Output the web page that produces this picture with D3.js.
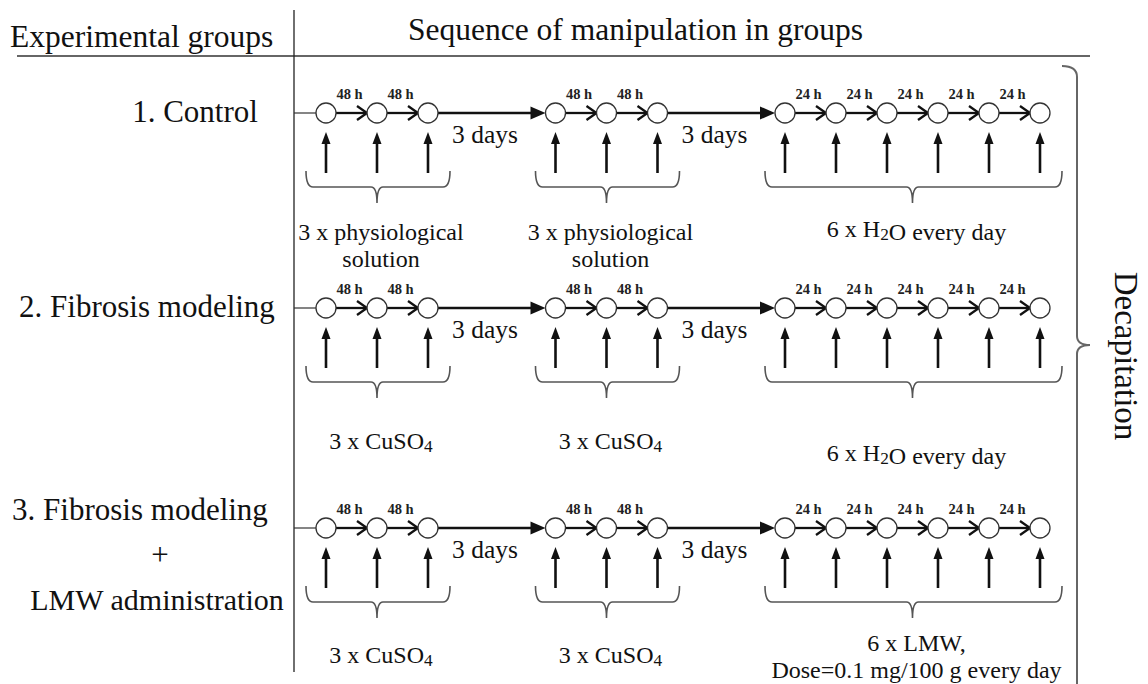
<!DOCTYPE html>
<html>
<head>
<meta charset="utf-8">
<script src="https://cdn.jsdelivr.net/npm/d3@7"></script>
<style>
  body { margin: 0; background: #fff; }
</style>
</head>
<body>
<div id="scheme"></div>
<script>
// --- data ---
var headers = ["Experimental groups", "Sequence of manipulation in groups"];
var groupLines = [
    ["1. Control"],
    ["2. Fibrosis modeling"],
    ["3. Fibrosis modeling", "+", "LMW administration"]
];
var blockCounts = [3, 3, 6];
var blockIntervals = [["48 h", "48 h"], ["48 h", "48 h"], ["24 h", "24 h", "24 h", "24 h", "24 h"]];
var gapLabels = ["3 days", "3 days"];
var treatments = [
    [["3 x physiological", "solution"], ["3 x physiological", "solution"], ["6 x H₂O every day"]],
    [["3 x CuSO₄"], ["3 x CuSO₄"], ["6 x H₂O every day"]],
    [["3 x CuSO₄"], ["3 x CuSO₄"], ["6 x LMW,", "Dose=0.1 mg/100 g every day"]]
];
var endpoint = "Decapitation";

// --- layout ---
var width = 1148, height = 684;
var serif = "'Liberation Serif', 'Times New Roman', serif";
var ink = "#111";

var svg = d3.select("#scheme")
  .append("svg")
    .attr("width", width)
    .attr("height", height)
    .style("display", "block");

var rowY = d3.scaleOrdinal().domain([0, 1, 2]).range([113, 308, 528]);

// slot index of every injection: 1 unit inside a block, 2.5 units for the 3-day pause
var gapUnits = 2.5;
var slots = [], s = 0;
blockCounts.forEach(function(n) {
    var blk = [];
    for (var i = 0; i < n; i++) { blk.push(s); s += 1; }
    s += gapUnits - 1;
    slots.push(blk);
});
var lastSlot = slots[slots.length - 1][blockCounts[blockCounts.length - 1] - 1];
var xScale = d3.scaleLinear().domain([0, lastSlot]).range([326, 1040]);

var r = 10;
var groupX = [[195], [147], [140, 160, 157]];
var groupDy = [[9], [9], [-8, 37, 82]];
var groupSize = [[31], [31], [31, 31, 30]];
var treatDy = [[127, 127, 124], [141, 141, 153], [135, 135, 123]];

// headers
svg.append("text")
    .attr("x", 10).attr("y", 47)
    .attr("font-family", serif).attr("font-size", 31.5)
    .attr("fill", ink)
    .text(headers[0]);
svg.append("text")
    .attr("x", 408).attr("y", 40)
    .attr("font-family", serif).attr("font-size", 31.5)
    .attr("fill", ink)
    .text(headers[1]);

svg.append("line")
    .attr("x1", 17).attr("x2", 1090).attr("y1", 56).attr("y2", 56)
    .attr("stroke", "#333").attr("stroke-width", 1.3);
svg.append("line")
    .attr("x1", 294).attr("x2", 294).attr("y1", 10).attr("y2", 672)
    .attr("stroke", "#222").attr("stroke-width", 1.3);

// text with subscript digits
function richText(sel, str) {
    str.split(/([₂₄])/).forEach(function(part) {
        if (!part) return;
        if (part === "₂" || part === "₄") {
            sel.append("tspan").attr("font-size", "0.72em").attr("dy", 3)
                .text(part === "₂" ? "2" : "4");
            sel.append("tspan").attr("dy", -3).text("");
        } else {
            sel.append("tspan").text(part);
        }
    });
}

function brace(g, x0, x1, xc, y) {
    var yT = y + 58, yH = y + 74, yTip = y + 90;
    var p = d3.path();
    p.moveTo(x0, yT);
    p.quadraticCurveTo(x0, yH, x0 + 7, yH);
    p.lineTo(xc - 6, yH);
    p.quadraticCurveTo(xc, yH, xc, yTip);
    p.moveTo(xc, yTip);
    p.quadraticCurveTo(xc, yH, xc + 6, yH);
    p.lineTo(x1 - 7, yH);
    p.quadraticCurveTo(x1, yH, x1, yT);
    g.append("path").attr("d", p.toString())
        .attr("fill", "none").attr("stroke", "#555").attr("stroke-width", 1.6);
}

groupLines.forEach(function(lines, gi) {
    var y = rowY(gi);
    var g = svg.append("g").attr("class", "group");

    lines.forEach(function(t, li) {
        g.append("text")
            .attr("x", groupX[gi][li]).attr("y", y + groupDy[gi][li])
            .attr("text-anchor", "middle")
            .attr("font-family", serif).attr("font-size", groupSize[gi][li])
            .attr("fill", ink)
            .text(t);
    });

    // stub from divider to first circle
    g.append("line")
        .attr("x1", 294).attr("x2", xScale(slots[0][0]) - r)
        .attr("y1", y).attr("y2", y)
        .attr("stroke", "#333").attr("stroke-width", 1.2);

    slots.forEach(function(blk, bi) {
        // interval arrows inside block
        for (var i = 0; i < blk.length - 1; i++) {
            var xa = xScale(blk[i]) + r, xb = xScale(blk[i + 1]) - r;
            g.append("line")
                .attr("x1", xa).attr("x2", xb).attr("y1", y).attr("y2", y)
                .attr("stroke", ink).attr("stroke-width", 2.3);
            g.append("path")
                .attr("d", "M" + (xb - 10) + "," + (y - 7) + "L" + xb + "," + y + "L" + (xb - 10) + "," + (y + 7))
                .attr("fill", "none").attr("stroke", ink).attr("stroke-width", 2.3);
            g.append("text")
                .attr("x", (xScale(blk[i]) + xScale(blk[i + 1])) / 2 - 2).attr("y", y - 14)
                .attr("text-anchor", "middle")
                .attr("font-family", serif).attr("font-size", 14.5).attr("font-weight", "bold")
                .attr("fill", "#222")
                .text(blockIntervals[bi][i]);
        }

        // pause arrow to next block
        if (bi < slots.length - 1) {
            var xs = xScale(blk[blk.length - 1]) + r;
            var xe = xScale(slots[bi + 1][0]) - r;
            g.append("line")
                .attr("x1", xs).attr("x2", xe - 12).attr("y1", y).attr("y2", y)
                .attr("stroke", ink).attr("stroke-width", 2.3);
            g.append("path")
                .attr("d", "M" + xe + "," + y + "L" + (xe - 15) + "," + (y - 6.5) + "L" + (xe - 15) + "," + (y + 6.5) + "Z")
                .attr("fill", ink);
            g.append("text")
                .attr("x", xs + 14).attr("y", y + 30)
                .attr("font-family", serif).attr("font-size", 25.5)
                .attr("fill", ink)
                .text(gapLabels[bi]);
        }

        // injection arrows and circles
        blk.forEach(function(sl) {
            var x = xScale(sl);
            g.append("line")
                .attr("x1", x).attr("x2", x).attr("y1", y + 60).attr("y2", y + 28)
                .attr("stroke", ink).attr("stroke-width", 2.6);
            g.append("path")
                .attr("d", "M" + x + "," + (y + 19) + "L" + (x - 4.5) + "," + (y + 31) + "L" + (x + 4.5) + "," + (y + 31) + "Z")
                .attr("fill", ink);
            g.append("circle")
                .attr("cx", x).attr("cy", y).attr("r", r)
                .attr("fill", "#fff").attr("stroke", "#333").attr("stroke-width", 1.3);
        });

        // brace and treatment label
        var x0 = xScale(blk[0]) - 20, x1 = xScale(blk[blk.length - 1]) + 22;
        var xc = (xScale(blk[0]) + xScale(blk[blk.length - 1])) / 2;
        brace(g, x0, x1, xc, y);
        treatments[gi][bi].forEach(function(t, li) {
            var txt = g.append("text")
                .attr("x", xc + 4).attr("y", y + treatDy[gi][bi] + li * 27)
                .attr("text-anchor", "middle")
                .attr("font-family", serif).attr("font-size", 24)
                .attr("fill", ink);
            richText(txt, t);
        });
    });
});

// right brace and endpoint
var tipY = 345, bx = 1077;
var rb = d3.path();
rb.moveTo(1062, 66);
rb.quadraticCurveTo(bx, 66, bx, 77);
rb.lineTo(bx, tipY - 9);
rb.quadraticCurveTo(bx, tipY, bx + 13, tipY);
rb.moveTo(bx + 13, tipY);
rb.quadraticCurveTo(bx, tipY, bx, tipY + 9);
rb.lineTo(bx, 684);
svg.append("path").attr("d", rb.toString())
    .attr("fill", "none").attr("stroke", "#666").attr("stroke-width", 2);

svg.append("text")
    .attr("transform", "translate(1115,356) rotate(90)")
    .attr("text-anchor", "middle")
    .attr("font-family", serif).attr("font-size", 33)
    .attr("fill", ink)
    .text(endpoint);
</script>
</body>
</html>
